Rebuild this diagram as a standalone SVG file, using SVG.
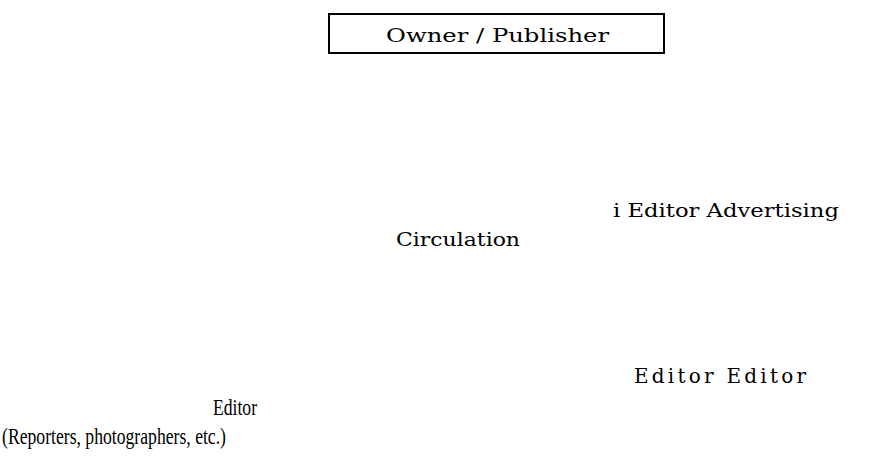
<svg xmlns="http://www.w3.org/2000/svg" width="871" height="470" viewBox="0 0 871 470">
<style>
.b{font-family:"DejaVu Serif","Liberation Serif",serif;font-size:19px;fill:#000}
.t{font-family:"Liberation Serif",serif;font-size:23px;fill:#000}
</style>
<rect width="871" height="470" fill="#fff"/>
<g id="owner">
<rect x="329" y="14" width="335" height="39" fill="#fff" stroke="#000" stroke-width="2"/>
<text class="b" x="386" y="42" textLength="223" lengthAdjust="spacingAndGlyphs">Owner / Publisher</text>
</g>
<g id="ieditor-advertising"><text class="b" x="613" y="217" textLength="226" lengthAdjust="spacingAndGlyphs">i Editor Advertising</text></g>
<g id="circulation"><text class="b" x="396" y="246" textLength="124" lengthAdjust="spacingAndGlyphs">Circulation</text></g>
<g id="editor-editor"><text class="b" x="634" y="383" style="font-size:20px" textLength="172">Editor Editor</text></g>
<g id="editor"><text class="t" x="213" y="415" textLength="44" lengthAdjust="spacingAndGlyphs">Editor</text></g>
<g id="reporters"><text class="t" x="2" y="444" textLength="224" lengthAdjust="spacingAndGlyphs">(Reporters, photographers, etc.)</text></g>
<g id="connectors"></g>
</svg>
